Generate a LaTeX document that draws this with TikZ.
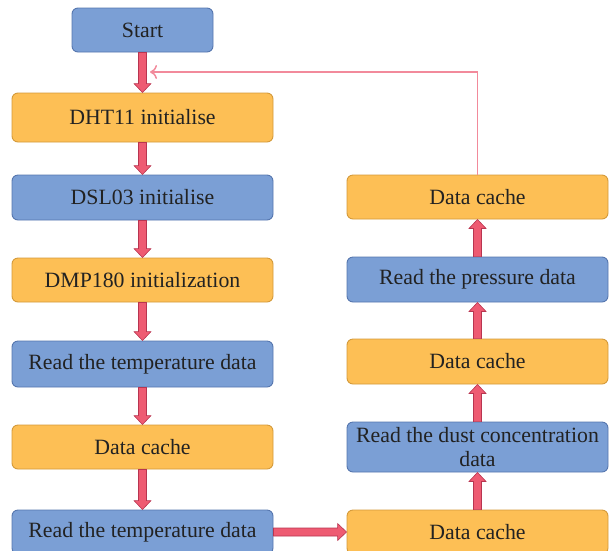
\documentclass[tikz,border=0pt]{standalone}
\usepackage{fontspec}
\setmainfont{Liberation Serif}
\usetikzlibrary{calc,arrows.meta}
\definecolor{bfill}{HTML}{7B9FD5}
\definecolor{bdraw}{HTML}{5576AE}
\definecolor{ofill}{HTML}{FDBF55}
\definecolor{odraw}{HTML}{D49A3A}
\definecolor{afill}{HTML}{EE5B72}
\definecolor{adraw}{HTML}{B83550}
\definecolor{fbcol}{HTML}{F28A9B}
\definecolor{txt}{HTML}{222222}
\tikzset{
  box/.style={rounded corners=6pt, line width=0.9pt, inner sep=0pt, minimum width=261pt,
    text=txt, font=\fontsize{21.8}{25}\selectfont, align=center},
  bluebox/.style={box, fill=bfill, draw=bdraw},
  orangebox/.style={box, fill=ofill, draw=odraw},
  barrow/.style={fill=afill, draw=adraw, line width=0.6pt, line join=miter},
  fb/.style={draw=fbcol, line width=1.5pt, -{To[length=7pt,width=14pt,line width=1.5pt]}}
}
\newcommand\darr[2]{\path[barrow] ($(#1.south)+(-4,0)$) -- ($(#2.north)+(-4,-9)$) -- ($(#2.north)+(-8.5,-9)$) -- (#2.north) -- ($(#2.north)+(8.5,-9)$) -- ($(#2.north)+(4,-9)$) -- ($(#1.south)+(4,0)$) -- cycle;}
\newcommand\uarr[2]{\path[barrow] ($(#1.north)+(-4,0)$) -- ($(#2.south)+(-4,9)$) -- ($(#2.south)+(-8.5,9)$) -- (#2.south) -- ($(#2.south)+(8.5,9)$) -- ($(#2.south)+(4,9)$) -- ($(#1.north)+(4,0)$) -- cycle;}
\newcommand\rarr[2]{\path[barrow] ($(#1.east)+(0,-4)$) -- ($(#2.west)+(-9,-4)$) -- ($(#2.west)+(-9,-8.5)$) -- (#2.west) -- ($(#2.west)+(-9,8.5)$) -- ($(#2.west)+(-9,4)$) -- ($(#1.east)+(0,4)$) -- cycle;}
\begin{document}
\begin{tikzpicture}[x=1pt,y=-1pt]
\useasboundingbox (0,0) rectangle (610,550);
\clip (0,0) rectangle (610,550);
% left column
\node[bluebox, minimum width=141pt, minimum height=44pt] (start) at (142.5,30) {Start};
\node[orangebox, minimum height=49pt] (dht) at (142.5,117.5) {DHT11 initialise};
\node[bluebox, minimum height=45pt] (dsl) at (142.5,197.5) {DSL03 initialise};
\node[orangebox, minimum height=44pt] (dmp) at (142.5,280) {DMP180 initialization};
\node[bluebox, minimum height=46pt] (rt1) at (142.5,364) {Read the temperature data};
\node[orangebox, minimum height=44pt] (dc1) at (142.5,447) {Data cache};
\node[bluebox, minimum height=44pt] (rt2) at (142.5,532) {Read the temperature data};
% right column
\node[orangebox, minimum height=44pt] (dc4) at (477.5,197) {Data cache};
\node[bluebox, minimum height=45pt] (rp) at (477.5,279.5) {Read the pressure data};
\node[orangebox, minimum height=45pt] (dc3) at (477.5,361.5) {Data cache};
\node[bluebox, minimum height=50pt] (rd) at (477.5,447) {Read the dust concentration\\[-1pt]data};
\node[orangebox, minimum height=44pt] (dc2) at (477.5,532) {Data cache};
% block arrows
\darr{start}{dht}
\darr{dht}{dsl}
\darr{dsl}{dmp}
\darr{dmp}{rt1}
\darr{rt1}{dc1}
\darr{dc1}{rt2}
\rarr{rt2}{dc2}
\uarr{dc2}{rd}
\uarr{rd}{dc3}
\uarr{dc3}{rp}
\uarr{rp}{dc4}
% feedback line
\coordinate (fbend) at (150,72);
\draw[fb] (dc4.north) |- (fbend);
\end{tikzpicture}
\end{document}
